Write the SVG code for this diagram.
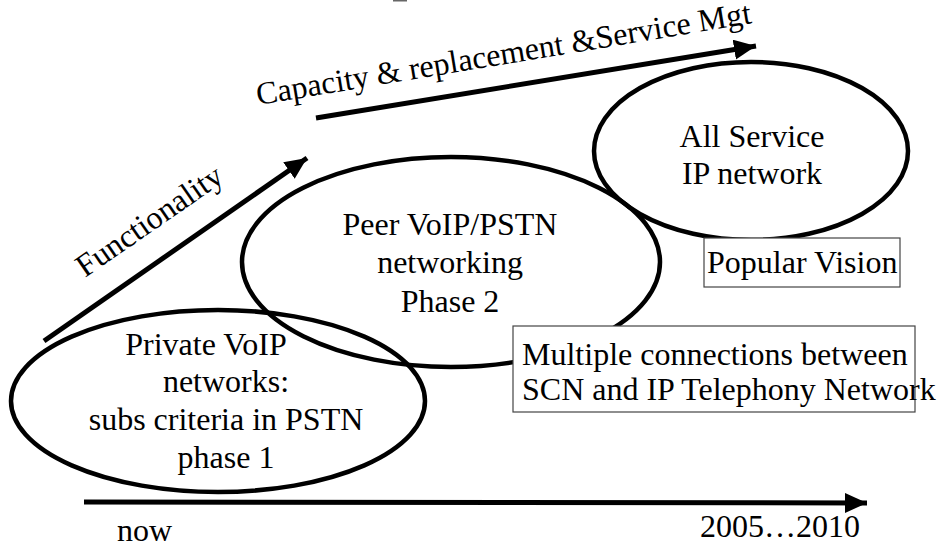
<svg xmlns="http://www.w3.org/2000/svg" width="942" height="549" viewBox="0 0 942 549">
<style>
  text { font-family: "Liberation Serif", "Times New Roman", serif; font-size: 32px; fill: #000; }
  .c { text-anchor: middle; }
  .ell { fill: none; stroke: #000; stroke-width: 4.5; }
  .arr { fill: none; stroke: #000; stroke-width: 5; marker-end: url(#ah); }
  .box { fill: #fff; stroke: #444; stroke-width: 1.2; }
</style>
<defs>
  <marker id="ah" markerUnits="userSpaceOnUse" markerWidth="24" markerHeight="22" refX="22" refY="10" orient="auto" viewBox="0 0 24 22">
    <path d="M0,0 L22,10 L0,20 z" fill="#000"/>
  </marker>
</defs>
<rect width="942" height="549" fill="#fff"/>
<rect x="393" y="0" width="14" height="1.5" fill="#666"/>

<g id="connectors">
  <line class="arr" x1="44" y1="341" x2="307" y2="158"/>
  <line class="arr" x1="316" y1="118" x2="756" y2="46"/>
  <line class="arr" x1="84" y1="502" x2="867" y2="503"/>
</g>

<g id="phase1">
  <ellipse class="ell" cx="218" cy="401" rx="207" ry="91"/>
  <text class="c" x="206" y="355">Private VoIP</text>
  <text class="c" x="226" y="392">networks:</text>
  <text class="c" x="226" y="430">subs criteria in PSTN</text>
  <text class="c" x="226" y="468">phase 1</text>
</g>

<g id="phase2">
  <ellipse class="ell" cx="451" cy="262" rx="209" ry="105"/>
  <text class="c" x="450" y="235">Peer VoIP/PSTN</text>
  <text class="c" x="450" y="273">networking</text>
  <text class="c" x="450" y="312">Phase 2</text>
</g>

<g id="allservice">
  <ellipse class="ell" cx="751" cy="151" rx="157" ry="89"/>
  <text class="c" x="752" y="147">All Service</text>
  <text class="c" x="752" y="184">IP network</text>
</g>

<g id="popular-vision">
  <rect class="box" x="704" y="238" width="196" height="49"/>
  <text x="707" y="273">Popular Vision</text>
</g>

<g id="multiple-connections">
  <rect class="box" x="513" y="326" width="402" height="86"/>
  <text x="522" y="365">Multiple connections between</text>
  <text x="522" y="400">SCN and IP Telephony Network</text>
</g>

<g id="labels">
  <text x="85" y="278" transform="rotate(-34.7 85 278)">Functionality</text>
  <text x="258" y="105" transform="rotate(-9.4 258 105)">Capacity &amp; replacement &amp;Service Mgt</text>
  <text x="117" y="541">now</text>
  <text x="700" y="537">2005…2010</text>
</g>
</svg>
